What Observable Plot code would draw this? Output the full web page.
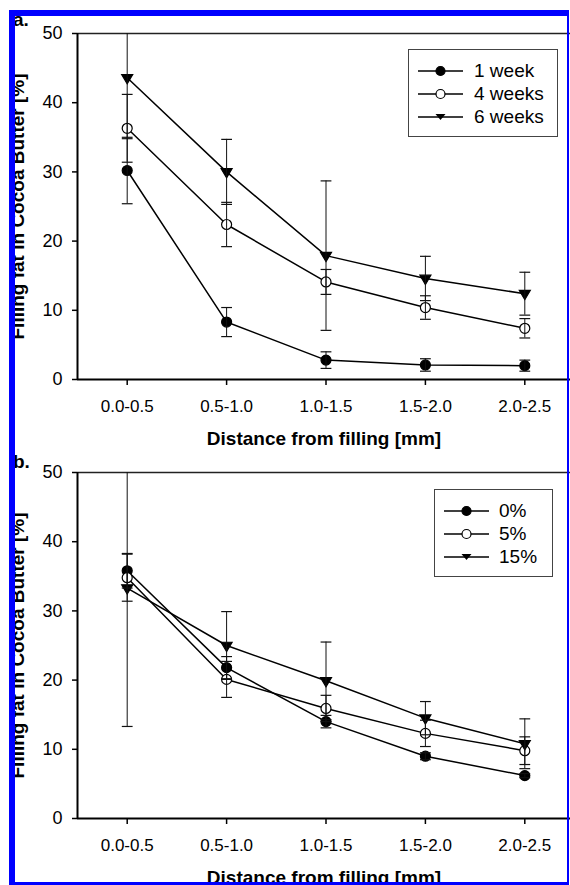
<!DOCTYPE html>
<html>
<head>
<meta charset="utf-8">
<script src="https://cdn.jsdelivr.net/npm/d3@7"></script>
<script src="https://cdn.jsdelivr.net/npm/@observablehq/plot@0.6"></script>
<style>
  html, body { margin: 0; padding: 0; background: #fff; }
  #fig { position: relative; width: 570px; height: 885px; overflow: hidden; background: #fff;
         font-family: "Liberation Sans", Arial, Helvetica, sans-serif; color: #000; }
  .panel { position: absolute; left: 0; }
  .bl { position: absolute; background: #0000ff; z-index: 5; }
  .tag { position: absolute; font-weight: bold; font-size: 19px; line-height: 1; z-index: 3; }
  .legend { position: absolute; border: 1px solid #444; background: #fff; z-index: 4; box-sizing: border-box; }
  .row { position: absolute; left: 0; height: 20px; display: flex; align-items: center; font-size: 19px; }
  .row svg { display: block; }
</style>
</head>
<body>
<div id="fig"></div>
<script>
// ---------- data ----------
const categories = ["0.0-0.5", "0.5-1.0", "1.0-1.5", "1.5-2.0", "2.0-2.5"];
const yTicks = [0, 10, 20, 30, 40, 50];
const xLabel = "Distance from filling [mm]";
const yLabel = "Filling fat in Cocoa Butter [%]";

// panel a: storage time
const seriesA = ["1 week", "4 weeks", "6 weeks"];
const week1 = [30.2, 8.3, 2.8, 2.1, 2.0];
const week1Err = [4.8, 2.1, 1.2, 0.9, 0.8];
const week4 = [36.3, 22.4, 14.1, 10.4, 7.4];
const week4Err = [4.9, 3.2, 1.8, 1.7, 1.4];
const week6 = [43.6, 30.0, 17.9, 14.6, 12.4];
const week6Err = [8.8, 4.7, 10.8, 3.2, 3.1];

// panel b: percentage
const seriesB = ["0%", "5%", "15%"];
const pct0 = [35.8, 21.8, 14.0, 9.0, 6.2];
const pct0Err = [2.5, 1.6, 0.9, 0.5, 0.3];
const pct5 = [34.8, 20.1, 15.9, 12.3, 9.8];
const pct5Err = [3.4, 2.6, 1.9, 1.9, 2.0];
const pct15 = [33.3, 25.0, 19.9, 14.5, 10.8];
const pct15Err = [20.0, 4.9, 5.6, 2.4, 3.6];

// ---------- symbols ----------
const capSymbol = {
  draw(ctx, size) {
    const r = Math.sqrt(size / Math.PI);
    ctx.moveTo(-r, 0); ctx.lineTo(r, 0);
  }
};
const triDown = {
  draw(ctx, size) {
    const r = Math.sqrt(size / Math.PI);
    ctx.moveTo(-1.1 * r, -0.65 * r);
    ctx.lineTo(1.1 * r, -0.65 * r);
    ctx.lineTo(0, 1.2 * r);
    ctx.closePath();
  }
};
const styles = [
  {symbol: "circle", fill: "black"},
  {symbol: "circle", fill: "white"},
  {symbol: triDown, fill: "black"}
];

function buildRows(names, vals, errs) {
  const rows = [];
  names.forEach((name, s) => {
    vals[s].forEach((v, i) => rows.push({series: name, s, i, v, e: errs[s][i]}));
  });
  return rows;
}

function panel(rows, names, top, height) {
  const fig = Plot.plot({
    width: 570,
    height: height,
    marginTop: 33,
    marginBottom: height - 379,
    marginLeft: 77,
    marginRight: 0,
    style: {fontFamily: '"Liberation Sans", Arial, sans-serif', fontSize: "17px", color: "black", background: "transparent", overflow: "visible"},
    x: {type: "linear", domain: [-0.5, 4.5], range: [77, 574]},
    y: {domain: [0, 50]},
    marks: [
      Plot.ruleY([50], {stroke: "#222", strokeWidth: 1.5}),
      Plot.ruleY([0], {stroke: "black", strokeWidth: 2}),
      Plot.ruleX([-0.5], {stroke: "black", strokeWidth: 2}),
      Plot.axisY({ticks: yTicks, tickSize: 5, tickPadding: 10, strokeWidth: 1.5, label: null, fontSize: 18}),
      Plot.axisX({ticks: d3.range(categories.length), tickFormat: i => categories[i], tickSize: 6, tickPadding: 14, strokeWidth: 1.5, label: null, fontSize: 17}),
      Plot.text([xLabel], {text: d => d, frameAnchor: "bottom", dy: 59, fontWeight: "bold", fontSize: 19, lineAnchor: "middle", textAnchor: "middle"}),
      Plot.text([yLabel], {text: d => d, frameAnchor: "left", dx: -60, rotate: -90, fontWeight: "bold", fontSize: 19, lineAnchor: "middle", textAnchor: "middle"}),
      Plot.line(rows, {x: "i", y: "v", z: "series", stroke: "black", strokeWidth: 1.5}),
      ...names.map((n, s) => Plot.dot(rows.filter(d => d.s === s), {x: "i", y: "v", r: 5, symbol: styles[s].symbol, fill: styles[s].fill, stroke: "black", strokeWidth: 1.2})),
      Plot.ruleX(rows, {x: "i", y1: d => d.v - d.e, y2: d => d.v + d.e, stroke: "#111", strokeWidth: 1, clip: true}),
      Plot.dot(rows, {x: "i", y: d => d.v + d.e, r: 5.4, symbol: capSymbol, stroke: "#111", strokeWidth: 1.2, clip: true}),
      Plot.dot(rows, {x: "i", y: d => d.v - d.e, r: 5.4, symbol: capSymbol, stroke: "#111", strokeWidth: 1.2, clip: true})
    ]
  });
  fig.classList.add("panel");
  fig.style.top = top + "px";
  return fig;
}

function legendBox(names, left, top, width, lineLen, gap) {
  const box = document.createElement("div");
  box.className = "legend";
  Object.assign(box.style, {left: left + "px", top: top + "px", width: width + "px", height: "88px"});
  names.forEach((n, s) => {
    const row = document.createElement("div");
    row.className = "row";
    row.style.top = (11 + s * 23) + "px";
    row.style.left = "9px";
    const svg = d3.create("svg").attr("width", lineLen + gap).attr("height", 20);
    svg.append("line").attr("x1", 0).attr("x2", lineLen).attr("y1", 10).attr("y2", 10)
      .attr("stroke", "black").attr("stroke-width", 1.5);
    const c = lineLen / 2;
    if (s < 2) {
      svg.append("circle").attr("cx", c).attr("cy", 10).attr("r", 4.5)
        .attr("fill", styles[s].fill).attr("stroke", "black").attr("stroke-width", 1.2);
    } else {
      svg.append("path").attr("d", `M${c - 5},7L${c + 5},7L${c},13Z`).attr("fill", "black");
    }
    row.appendChild(svg.node());
    const t = document.createElement("span");
    t.textContent = n;
    row.appendChild(t);
    box.appendChild(row);
  });
  return box;
}

const fig = document.getElementById("fig");
const rowsA = buildRows(seriesA, [week1, week4, week6], [week1Err, week4Err, week6Err]);
const rowsB = buildRows(seriesB, [pct0, pct5, pct15], [pct0Err, pct5Err, pct15Err]);
fig.appendChild(panel(rowsA, seriesA, 0, 450));
fig.appendChild(panel(rowsB, seriesB, 439, 446));
fig.appendChild(legendBox(seriesA, 408, 49, 150, 45, 11));
fig.appendChild(legendBox(seriesB, 434, 489, 119, 45, 10));

// panel tags
[["a.", 13, 10], ["b.", 13, 452]].forEach(([txt, x, y]) => {
  const d = document.createElement("div");
  d.className = "tag"; d.textContent = txt;
  d.style.left = x + "px"; d.style.top = y + "px";
  fig.appendChild(d);
});

// blue frame
[[9, 10, 560, 6], [9, 10, 6, 875], [567, 10, 2, 875], [9, 882, 560, 3]].forEach(([l, t, w, h]) => {
  const d = document.createElement("div");
  d.className = "bl";
  Object.assign(d.style, {left: l + "px", top: t + "px", width: w + "px", height: h + "px"});
  fig.appendChild(d);
});
</script>
</body>
</html>
